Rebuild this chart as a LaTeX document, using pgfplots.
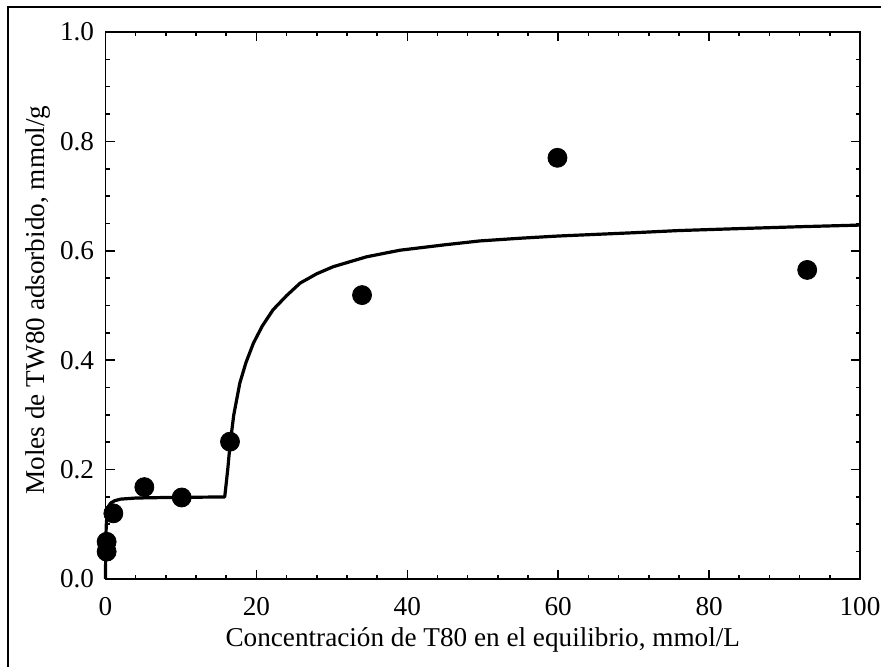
\documentclass[border=0pt]{standalone}
\usepackage{fontspec}
\setmainfont{Liberation Serif}
\usepackage{pgfplots}
\pgfplotsset{compat=1.18}

\begin{document}
\fontsize{13.6}{16}\selectfont
\begin{tikzpicture}
    \path[use as bounding box] (0,0) rectangle (440.5pt,333.5pt);
    % outer frame, cut at the right and bottom
    \draw[black, line width=0.85pt] (4pt,-5pt) -- (4pt,330pt) -- (450pt,330pt);
    \begin{axis}[
        at={(52.75pt,44pt)}, anchor=south west,
        scale only axis,
        width=377.25pt, height=273.5pt,
        xmin=0, xmax=100, ymin=0, ymax=1.0,
        xtick={0,20,40,60,80,100},
        ytick={0,0.2,0.4,0.6,0.8,1.0},
        /pgf/number format/assume math mode=true,
        yticklabel style={/pgf/number format/fixed, /pgf/number format/fixed zerofill,
            /pgf/number format/precision=1, xshift=-1pt},
        minor x tick num=4, minor y tick num=3,
        tick align=inside,
        major tick length=4.5pt, minor tick length=2.2pt,
        axis line style={line width=0.85pt},
        every tick/.style={black, line width=0.8pt},
        xticklabel style={yshift=-4.5pt},
        xlabel={Concentración de T80 en el equilibrio, mmol/L},
        ylabel={Moles de TW80 adsorbido, mmol/g},
        xlabel style={at={(axis description cs:0.5,-0.112)}, anchor=center},
        ylabel style={at={(axis description cs:-0.089,0.51)}, anchor=center},
        clip=false,
    ]
        % fitted isotherm
        \addplot[black, line width=1.6pt, line join=round] coordinates {
            (0,0) (0.02,0.041) (0.05,0.073) (0.1,0.098) (0.2,0.119)
            (0.4,0.133) (0.7,0.139) (1.2,0.143) (2,0.146) (4,0.148)
            (8,0.149) (15.8,0.150)
            (16.2,0.200) (16.5,0.245) (17,0.300) (17.8,0.358) (18.6,0.395)
            (19.6,0.431) (20.8,0.463) (22.2,0.492) (24,0.518) (25.8,0.541)
            (28,0.558) (30.2,0.571) (34.6,0.589) (39,0.601) (45,0.611)
            (49.6,0.618) (55,0.623) (60,0.627) (70,0.633) (76,0.637)
            (85,0.641) (92,0.644) (100,0.647)
        };
        % measured points
        \addplot[only marks, mark=*, mark size=4.75pt, black] coordinates {
            (0.15,0.050) (0.15,0.068) (1.04,0.120) (5.15,0.168) (10.1,0.149)
            (16.5,0.251) (34.0,0.519) (59.9,0.770) (93.0,0.565)
        };
    \end{axis}
\end{tikzpicture}
\end{document}
